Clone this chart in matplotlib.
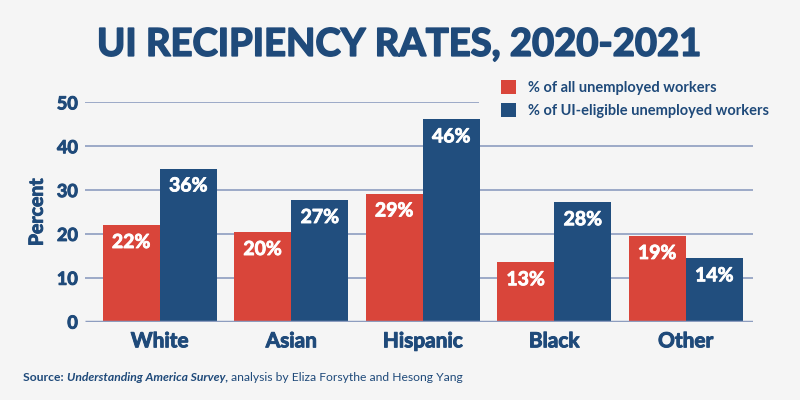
import matplotlib
matplotlib.use("Agg")
import matplotlib.pyplot as plt
import matplotlib.patheffects as pe
import numpy as np

categories = ["White", "Asian", "Hispanic", "Black", "Other"]
all_unemployed = [22.0, 20.4, 29.2, 13.5, 19.5]
ui_eligible = [34.9, 27.7, 46.1, 27.2, 14.4]
all_labels = ["22%", "20%", "29%", "13%", "19%"]
elig_labels = ["36%", "27%", "46%", "28%", "14%"]
yticks = [0, 10, 20, 30, 40, 50]

RED = "#d9453a"
BLUE = "#214e7e"
NAVY = "#1f4a7a"
BG = "#f5f5f5"
GRID = "#8d9dbf"
FONT = ["Lato", "DejaVu Sans"]
HEAVY = "bold"

plt.rcParams["font.family"] = FONT

fig = plt.figure(figsize=(8, 4), dpi=100, facecolor=BG)
ax = fig.add_axes([0.106, 0.196, 0.835, 0.548])
ax.set_facecolor(BG)

x = np.arange(len(categories))
w = 0.435
ax.set_xlim(-0.57, 4.51)
ax.set_ylim(0, 50)

# gridlines
for t in yticks[1:]:
    xmax = 2.43 if t == 50 else 4.51
    ax.hlines(t, -0.57, xmax, color=GRID, lw=1.2, zorder=0)
ax.hlines(0, -0.57, 4.51, color=GRID, lw=2.5, zorder=3)

b1 = ax.bar(x - w / 2, all_unemployed, w, color=RED, zorder=2, label="% of all unemployed workers")
b2 = ax.bar(x + w / 2, ui_eligible, w, color=BLUE, zorder=2, label="% of UI-eligible unemployed workers")

white_stroke = [pe.withStroke(linewidth=0.6, foreground="white")]
navy_stroke = [pe.withStroke(linewidth=0.7, foreground=NAVY)]

for bars, labels in ((b1, all_labels), (b2, elig_labels)):
    for rect, lab in zip(bars, labels):
        ax.annotate(lab, (rect.get_x() + rect.get_width() / 2, rect.get_height()),
                    xytext=(0, -12.5), textcoords="offset points",
                    ha="center", va="center", color="white",
                    fontsize=14, fontweight=HEAVY, zorder=4,
                    path_effects=white_stroke)

for s in ax.spines.values():
    s.set_visible(False)
ax.set_yticks(yticks)
ax.set_yticklabels([str(t) for t in yticks], fontsize=13, fontweight=HEAVY, color=NAVY,
                   path_effects=navy_stroke)
ax.set_xticks(x)
ax.set_xticklabels(categories, fontsize=15, fontweight=HEAVY, color=NAVY,
                   path_effects=navy_stroke)
ax.tick_params(axis="both", length=0)
ax.tick_params(axis="y", pad=5)
ax.tick_params(axis="x", pad=7)
ax.set_ylabel("Percent", fontsize=14, fontweight=HEAVY, color=NAVY, labelpad=8,
              path_effects=navy_stroke)

fig.text(0.5, 0.888, "UI RECIPIENCY RATES, 2020-2021", ha="center", va="center",
         fontsize=27.5, fontweight=HEAVY, color=NAVY,
         path_effects=[pe.withStroke(linewidth=1.2, foreground=NAVY)])

leg = ax.legend(loc="upper left", bbox_to_anchor=(0.615, 1.13), frameon=False,
                fontsize=10.5, handlelength=1.0, handleheight=1.1, handletextpad=0.8,
                labelspacing=0.55, borderaxespad=0)
for t in leg.get_texts():
    t.set_color(NAVY)
    t.set_fontweight("bold")

# source line, pieces placed one after another
fig.canvas.draw()
renderer = fig.canvas.get_renderer()
parts = [("Source: ", dict(fontweight="bold")),
         ("Understanding America Survey, ", dict(fontweight="bold", style="italic")),
         ("analysis by Eliza Forsythe and Hesong Yang", dict())]
xpos = 23 / 800
for txt, kw in parts:
    t = fig.text(xpos, 0.057, txt, ha="left", va="center", fontsize=8.7, color=NAVY, **kw)
    bb = t.get_window_extent(renderer=renderer)
    xpos += bb.width / fig.bbox.width

fig.savefig("out.png", dpi=100, facecolor=BG)
